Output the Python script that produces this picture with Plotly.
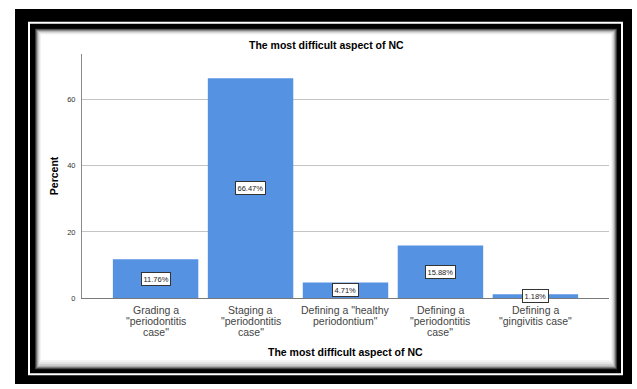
import plotly.graph_objects as go

# Data
categories = [
    'Grading a<br>"periodontitis<br>case"',
    'Staging a<br>"periodontitis<br>case"',
    'Defining a "healthy<br>periodontium"',
    'Defining a<br>"periodontitis<br>case"',
    'Defining a<br>"gingivitis case"',
]
percents = [11.76, 66.47, 4.71, 15.88, 1.18]
y_ticks = [0, 20, 40, 60]
chart_title = "The most difficult aspect of NC"
x_title = "The most difficult aspect of NC"
y_title = "Percent"

W, H = 637, 389
FONT = "Liberation Sans, Arial, sans-serif"
BAR_COLOR = "#5592e2"


def px(x):
    return x / W


def py(y):
    return 1 - y / H


def rect(x0, y0, x1, y1, fill=None, line_color=None, line_width=0):
    return dict(
        type="rect", xref="paper", yref="paper", layer="below",
        x0=px(x0), x1=px(x1), y0=py(y1), y1=py(y0),
        fillcolor=fill if fill else "rgba(0,0,0,0)",
        line=dict(color=line_color if line_color else "rgba(0,0,0,0)", width=line_width),
    )


# Frame: thick black border, thin white rule, then a white panel with a soft inner shadow
shapes = [
    rect(15, 9, 632, 389, fill="black"),
    rect(29, 23, 622, 379, line_color="white", line_width=2),
]
shadow_layers = [
    (35, 29, 617, 374, "#3a3a3a"),
    (36, 30, 616, 373, "#707070"),
    (37, 31, 615, 372, "#a4a4a4"),
    (38, 32, 614, 371, "#cbcbcb"),
    (39, 33, 613, 369, "#e4e4e4"),
    (40, 34, 612, 367, "#f3f3f3"),
    (41, 35, 611, 365, "white"),
]
for x0, y0, x1, y1, c in shadow_layers:
    shapes.append(rect(x0, y0, x1, y1, fill=c))

x_dom = [px(82), px(609)]
y_dom = [py(302), py(55)]
idx = list(range(len(categories)))

fig = go.Figure(
    go.Bar(
        x=idx,
        y=percents,
        width=0.9,
        marker=dict(color=BAR_COLOR, line=dict(width=0)),
        hoverinfo="skip",
    )
)

annotations = []
# value labels in boxes at mid-height of each bar
for i, v in zip(idx, percents):
    annotations.append(dict(
        x=i, y=v / 2, xref="x", yref="y", text=f"{v:.2f}%", showarrow=False,
        xanchor="center", yanchor="middle",
        font=dict(family=FONT, size=7.5, color="#222"),
        bgcolor="white", bordercolor="#333", borderwidth=1, borderpad=1.5,
    ))
# category labels, one line per annotation for tight spacing
for i, label in zip(idx, categories):
    for j, line in enumerate(label.split("<br>")):
        annotations.append(dict(
            x=i, y=y_dom[0], xref="x", yref="paper", text=line, showarrow=False,
            xanchor="center", yanchor="middle", yshift=-(12 + 11 * j),
            font=dict(family=FONT, size=10.5, color="#444"),
        ))
annotations += [
    dict(x=px(326), y=py(46), xref="paper", yref="paper", text=f"<b>{chart_title}</b>",
         showarrow=False, xanchor="center", yanchor="middle",
         font=dict(family=FONT, size=10.5, color="black")),
    dict(x=px(345.5), y=py(357), xref="paper", yref="paper", text=f"<b>{x_title}</b>",
         showarrow=False, xanchor="center", yanchor="middle",
         font=dict(family=FONT, size=10.5, color="black")),
    dict(x=px(54), y=py(178.5), xref="paper", yref="paper", text=f"<b>{y_title}</b>",
         showarrow=False, textangle=-90, xanchor="center", yanchor="middle",
         font=dict(family=FONT, size=10.5, color="black")),
]

fig.update_layout(
    width=W, height=H,
    margin=dict(l=0, r=0, t=0, b=0),
    paper_bgcolor="white",
    plot_bgcolor="rgba(0,0,0,0)",
    showlegend=False,
    shapes=shapes,
    annotations=annotations,
    xaxis=dict(
        domain=x_dom, range=[-0.775, 4.775], showticklabels=False, ticks="",
        showgrid=False, zeroline=False, showline=True, linecolor="#7a7a7a", linewidth=1,
        fixedrange=True,
    ),
    yaxis=dict(
        domain=y_dom, range=[0, 73.7], tickvals=y_ticks, ticks="",
        tickfont=dict(family=FONT, size=7.5, color="#333"),
        showgrid=True, gridcolor="#c4c4c4", gridwidth=1,
        zeroline=False, showline=True, linecolor="#8a8a8a", linewidth=1,
        ticklabelstandoff=4, fixedrange=True,
    ),
)

fig.write_html("out.html")
